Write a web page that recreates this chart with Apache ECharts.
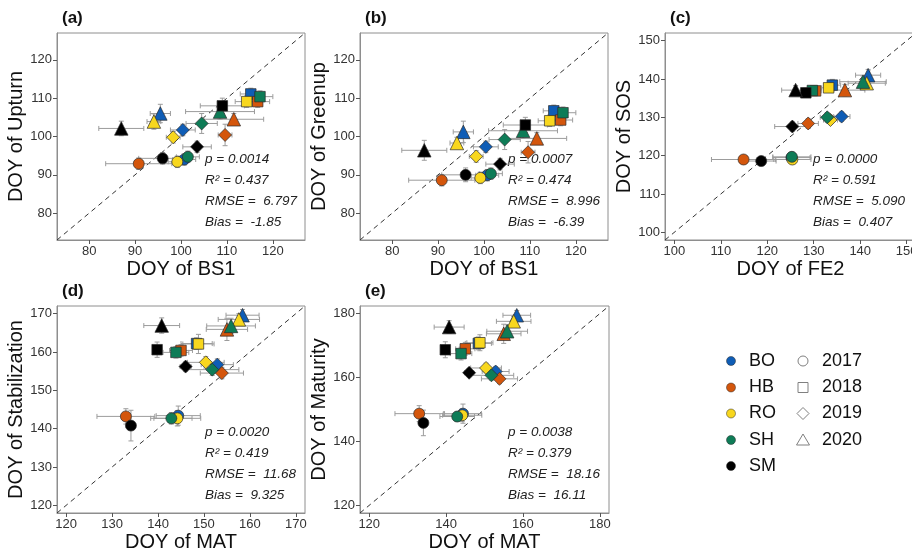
<!DOCTYPE html>
<html>
<head>
<meta charset="utf-8">
<script src="https://cdn.jsdelivr.net/npm/echarts@6/dist/echarts.min.js"></script>
<style>
  html, body { margin: 0; padding: 0; background: #ffffff; overflow: hidden; }
  #chart { width: 912px; height: 552px; }
</style>
</head>
<body>
<div id="chart"></div>
<script>
// Sites (rows) and years (columns) used by every data table below
const sites = ['BO', 'HB', 'RO', 'SH', 'SM'];
const years = ['2017', '2018', '2019', '2020'];

// Mean DOY of BS1 (x of panels a and b) and its half error bar
const bs1X = [
  [100.7, 115.2, 100.4, 95.5],
  [90.8, 116.7, 109.6, 111.5],
  [99.2, 114.3, 98.3, 94.1],
  [101.5, 117.2, 104.5, 108.5],
  [96.0, 109.0, 103.5, 87.0]
];
const bs1XErr = [
  [2.5, 2.3, 2.7, 2.2],
  [7.2, 2.6, 1.5, 6.5],
  [2.0, 2.5, 1.5, 1.5],
  [2.5, 2.8, 3.4, 7.5],
  [5.2, 4.8, 3.1, 4.9]
];

// Panel (a): DOY of Upturn
const upturnY = [
  [94.0, 111.1, 101.7, 106.0],
  [92.9, 109.1, 100.4, 104.5],
  [93.4, 109.1, 99.8, 103.9],
  [94.7, 110.4, 103.4, 106.5],
  [94.3, 108.0, 97.3, 102.1]
];
const upturnYErr = [
  [1.5, 1.5, 1.5, 2.4],
  [1.5, 1.5, 2.8, 1.5],
  [1.5, 1.5, 1.5, 2.0],
  [1.5, 1.5, 2.6, 2.0],
  [1.5, 2.0, 1.5, 1.9]
];

// Panel (b): DOY of Greenup
const greenupY = [
  [89.9, 106.7, 97.3, 101.2],
  [88.6, 104.3, 95.9, 99.5],
  [89.2, 104.1, 94.8, 98.3],
  [90.3, 106.2, 99.2, 101.5],
  [90.0, 103.0, 92.8, 96.4]
];
const greenupYErr = [
  [1.5, 1.5, 1.5, 2.8],
  [1.5, 1.5, 2.8, 1.5],
  [1.5, 1.5, 1.5, 1.5],
  [1.5, 1.5, 2.6, 2.0],
  [1.8, 2.0, 1.5, 2.6]
];

// Panel (c): DOY of FE2 against DOY of SOS
const fe2X = [
  [125.2, 134.0, 136.0, 141.7],
  [114.9, 130.4, 128.8, 136.7],
  [125.4, 133.2, 133.6, 141.4],
  [125.3, 129.7, 132.9, 140.6],
  [118.7, 128.3, 125.4, 126.1]
];
const fe2XErr = [
  [4.0, 1.8, 1.8, 2.7],
  [6.9, 1.2, 2.2, 4.3],
  [4.0, 1.5, 1.5, 4.0],
  [4.1, 1.2, 1.5, 5.0],
  [3.2, 2.0, 3.8, 3.0]
];
const sosY = [
  [119.5, 138.4, 130.2, 141.0],
  [119.0, 136.9, 128.4, 137.1],
  [119.0, 137.7, 129.3, 138.9],
  [119.7, 137.0, 130.0, 139.3],
  [118.6, 136.4, 127.6, 137.1]
];
const sosYErr = [
  [1.2, 1.5, 1.2, 1.5],
  [1.0, 1.2, 1.2, 1.5],
  [1.0, 1.2, 1.0, 1.5],
  [1.2, 1.2, 1.2, 1.5],
  [1.0, 1.2, 1.2, 1.2]
];

// Mean DOY of MAT (x of panels d and e)
const matX = [
  [144.4, 148.4, 152.9, 158.4],
  [133.0, 145.0, 153.9, 155.0],
  [144.2, 148.8, 150.4, 157.6],
  [142.9, 143.9, 151.8, 155.9],
  [134.1, 139.8, 146.0, 140.8]
];
const matXErr = [
  [4.8, 3.4, 3.5, 3.6],
  [6.3, 2.5, 4.7, 4.5],
  [5.1, 3.4, 4.0, 4.5],
  [4.5, 2.8, 5.8, 5.3],
  [1.0, 1.0, 1.2, 3.9]
];

// Panel (d): DOY of Stabilization
const stabY = [
  [143.4, 162.2, 156.7, 169.6],
  [143.2, 160.4, 154.5, 165.9],
  [142.7, 162.1, 157.3, 168.5],
  [142.7, 159.9, 155.4, 166.8],
  [140.8, 160.6, 156.2, 166.9]
];
const stabYErr = [
  [2.5, 1.5, 1.5, 1.5],
  [2.0, 1.5, 1.5, 2.9],
  [2.0, 2.5, 1.5, 1.5],
  [1.5, 1.5, 1.5, 2.0],
  [4.0, 2.0, 1.2, 2.0]
];

// Panel (e): DOY of Maturity
const matuY = [
  [148.7, 170.7, 161.9, 179.5],
  [148.7, 169.0, 159.6, 173.7],
  [148.2, 170.9, 163.0, 177.6],
  [147.8, 167.5, 160.7, 174.5],
  [145.8, 168.7, 161.5, 175.8]
];
const matuYErr = [
  [3.0, 2.0, 1.5, 1.5],
  [2.5, 2.0, 1.5, 3.0],
  [2.0, 2.5, 1.5, 1.5],
  [1.5, 2.0, 1.5, 2.0],
  [4.0, 2.5, 1.2, 2.0]
];

// Axis limits and tick labels
const bs1Range = [73, 127];
const bs1Ticks = [80, 90, 100, 110, 120];
const fe2Range = [98, 152];
const fe2Ticks = [100, 110, 120, 130, 140, 150];
const matRangeD = [118, 172];
const matTicksD = [120, 130, 140, 150, 160, 170];
const matRangeE = [117.6, 182.4];
const matTicksE = [120, 140, 160, 180];

// Agreement statistics printed in each panel
const statsUpturn = ['p = 0.0014', 'R\u00b2 = 0.437', 'RMSE =  6.797', 'Bias =  -1.85'];
const statsGreenup = ['p = 0.0007', 'R\u00b2 = 0.474', 'RMSE =  8.996', 'Bias =  -6.39'];
const statsSos = ['p = 0.0000', 'R\u00b2 = 0.591', 'RMSE =  5.090', 'Bias =  0.407'];
const statsStab = ['p = 0.0020', 'R\u00b2 = 0.419', 'RMSE =  11.68', 'Bias =  9.325'];
const statsMatu = ['p = 0.0038', 'R\u00b2 = 0.379', 'RMSE =  18.16', 'Bias =  16.11'];

// Styling
const FONT = '"Liberation Sans", Arial, Helvetica, sans-serif';
const siteColors = ['#0F5DB6', '#D4560C', '#F8D71E', '#0E7C57', '#000000'];
const yearSymbols = ['circle', 'rect', 'diamond', 'triangle'];
const yearSizes = [11, 10.5, 13, 13.5];

// Panel boxes; panel (c) runs past the right edge of the page
const panels = [
  { tag: '(a)', xName: 'DOY of BS1', yName: 'DOY of Upturn', x: bs1X, xe: bs1XErr, y: upturnY, ye: upturnYErr,
    range: bs1Range, ticks: bs1Ticks, stats: statsUpturn, box: { left: 57, top: 33, width: 248, height: 207 } },
  { tag: '(b)', xName: 'DOY of BS1', yName: 'DOY of Greenup', x: bs1X, xe: bs1XErr, y: greenupY, ye: greenupYErr,
    range: bs1Range, ticks: bs1Ticks, stats: statsGreenup, box: { left: 360, top: 33, width: 248, height: 207 } },
  { tag: '(c)', xName: 'DOY of FE2', yName: 'DOY of SOS', x: fe2X, xe: fe2XErr, y: sosY, ye: sosYErr,
    range: fe2Range, ticks: fe2Ticks, stats: statsSos, box: { left: 665, top: 33, width: 251, height: 207 } },
  { tag: '(d)', xName: 'DOY of MAT', yName: 'DOY of Stabilization', x: matX, xe: matXErr, y: stabY, ye: stabYErr,
    range: matRangeD, ticks: matTicksD, stats: statsStab, box: { left: 57, top: 306, width: 248, height: 207 } },
  { tag: '(e)', xName: 'DOY of MAT', yName: 'DOY of Maturity', x: matX, xe: matXErr, y: matuY, ye: matuYErr,
    range: matRangeE, ticks: matTicksE, stats: statsMatu, box: { left: 360, top: 306, width: 249, height: 207 } }
];

function errorBarItem(params, api) {
  const x = api.value(0), y = api.value(1), ex = api.value(2), ey = api.value(3);
  const l = api.coord([x - ex, y]), r = api.coord([x + ex, y]);
  const b = api.coord([x, y - ey]), t = api.coord([x, y + ey]);
  const cap = 2.5;
  const style = { stroke: '#9c9c9c', lineWidth: 1 };
  return {
    type: 'group',
    children: [
      { type: 'line', shape: { x1: l[0], y1: l[1], x2: r[0], y2: r[1] }, style },
      { type: 'line', shape: { x1: l[0], y1: l[1] - cap, x2: l[0], y2: l[1] + cap }, style },
      { type: 'line', shape: { x1: r[0], y1: r[1] - cap, x2: r[0], y2: r[1] + cap }, style },
      { type: 'line', shape: { x1: b[0], y1: b[1], x2: t[0], y2: t[1] }, style },
      { type: 'line', shape: { x1: b[0] - cap, y1: b[1], x2: b[0] + cap, y2: b[1] }, style },
      { type: 'line', shape: { x1: t[0] - cap, y1: t[1], x2: t[0] + cap, y2: t[1] }, style }
    ]
  };
}

const grids = [], xAxes = [], yAxes = [], series = [], graphics = [];

panels.forEach((p, gi) => {
  const left = p.box.left, top = p.box.top;
  grids.push(Object.assign({
    show: true, borderColor: '#8e8e8e', borderWidth: 1, backgroundColor: 'transparent',
    containLabel: false, outerBoundsMode: 'none'
  }, p.box));

  const axisCommon = {
    type: 'value', gridIndex: gi, min: p.range[0], max: p.range[1],
    splitLine: { show: false },
    axisLine: { show: true, lineStyle: { color: '#8e8e8e', width: 1 } },
    axisTick: { show: true, inside: false, length: 4, customValues: p.ticks, lineStyle: { color: '#555', width: 1 } },
    axisLabel: { customValues: p.ticks, fontFamily: FONT, fontSize: 13, color: '#333', margin: 5, hideOverlap: false },
    nameLocation: 'middle',
    nameTextStyle: { fontFamily: FONT, fontSize: 20, color: '#111' }
  };
  xAxes.push(Object.assign({}, axisCommon, { name: p.xName, nameGap: 19 }));
  yAxes.push(Object.assign({}, axisCommon, { name: p.yName, nameGap: 29 }));

  // 1:1 reference line
  series.push({
    type: 'line', xAxisIndex: gi, yAxisIndex: gi, z: 1, silent: true, symbol: 'none',
    data: [[p.range[0], p.range[0]], [p.range[1], p.range[1]]],
    lineStyle: { color: '#333333', width: 1, type: [5, 4] }
  });

  // Error bars (x and y) behind the points
  const errData = [];
  sites.forEach((s, si) => years.forEach((yr, yi) => {
    errData.push([p.x[si][yi], p.y[si][yi], p.xe[si][yi], p.ye[si][yi]]);
  }));
  series.push({
    type: 'custom', xAxisIndex: gi, yAxisIndex: gi, z: 2, silent: true,
    renderItem: errorBarItem, encode: { x: 0, y: 1 }, data: errData, clip: false
  });

  // Points: one series per site, symbol by year
  sites.forEach((s, si) => {
    series.push({
      type: 'scatter', name: s, xAxisIndex: gi, yAxisIndex: gi, z: 3, silent: true,
      data: years.map((yr, yi) => ({
        value: [p.x[si][yi], p.y[si][yi]],
        symbol: yearSymbols[yi],
        symbolSize: yearSizes[yi]
      })),
      itemStyle: { color: siteColors[si], borderColor: '#2b2b2b', borderWidth: 0.7, opacity: 1 }
    });
  });

  // Panel tag
  graphics.push({
    type: 'text', left: left + 5, top: top - 23,
    style: { text: p.tag, fontFamily: FONT, fontSize: 17, fontWeight: 'bold', fill: '#111' }
  });

  // Statistics block
  p.stats.forEach((line, k) => {
    graphics.push({
      type: 'text', x: left + 148, y: top + 126 + k * 21,
      style: { text: line, fontFamily: FONT, fontSize: 13.5, fontStyle: 'italic', fill: '#222',
               textVerticalAlign: 'middle', verticalAlign: 'middle' }
    });
  });
});

// Legend: site colours and year symbols
const legendRowY = [361, 387.5, 413.5, 440, 466];
sites.forEach((s, si) => {
  graphics.push({
    type: 'circle', shape: { cx: 731, cy: legendRowY[si], r: 4.5 },
    style: { fill: siteColors[si], stroke: '#2b2b2b', lineWidth: 0.5 }
  });
  graphics.push({
    type: 'text', x: 749, y: legendRowY[si],
    style: { text: s, fontFamily: FONT, fontSize: 18, fill: '#111', verticalAlign: 'middle', textVerticalAlign: 'middle' }
  });
});
const legendShapeStyle = { fill: 'none', stroke: '#808080', lineWidth: 1 };
years.forEach((yr, yi) => {
  const cy = legendRowY[yi], cx = 803;
  let shape;
  if (yi === 0) shape = { type: 'circle', shape: { cx, cy, r: 5 }, style: legendShapeStyle };
  else if (yi === 1) shape = { type: 'rect', shape: { x: cx - 5, y: cy - 5, width: 10, height: 10 }, style: legendShapeStyle };
  else if (yi === 2) shape = { type: 'polygon', shape: { points: [[cx, cy - 6], [cx + 6, cy], [cx, cy + 6], [cx - 6, cy]] }, style: legendShapeStyle };
  else shape = { type: 'polygon', shape: { points: [[cx, cy - 6], [cx + 6.5, cy + 5], [cx - 6.5, cy + 5]] }, style: legendShapeStyle };
  graphics.push(shape);
  graphics.push({
    type: 'text', x: 822, y: cy,
    style: { text: yr, fontFamily: FONT, fontSize: 18, fill: '#111', verticalAlign: 'middle', textVerticalAlign: 'middle' }
  });
});

const chart = echarts.init(document.getElementById('chart'), null, { renderer: 'canvas' });
chart.setOption({
  animation: false,
  backgroundColor: '#ffffff',
  grid: grids,
  xAxis: xAxes,
  yAxis: yAxes,
  series: series,
  graphic: { elements: graphics }
});
</script>
</body>
</html>
